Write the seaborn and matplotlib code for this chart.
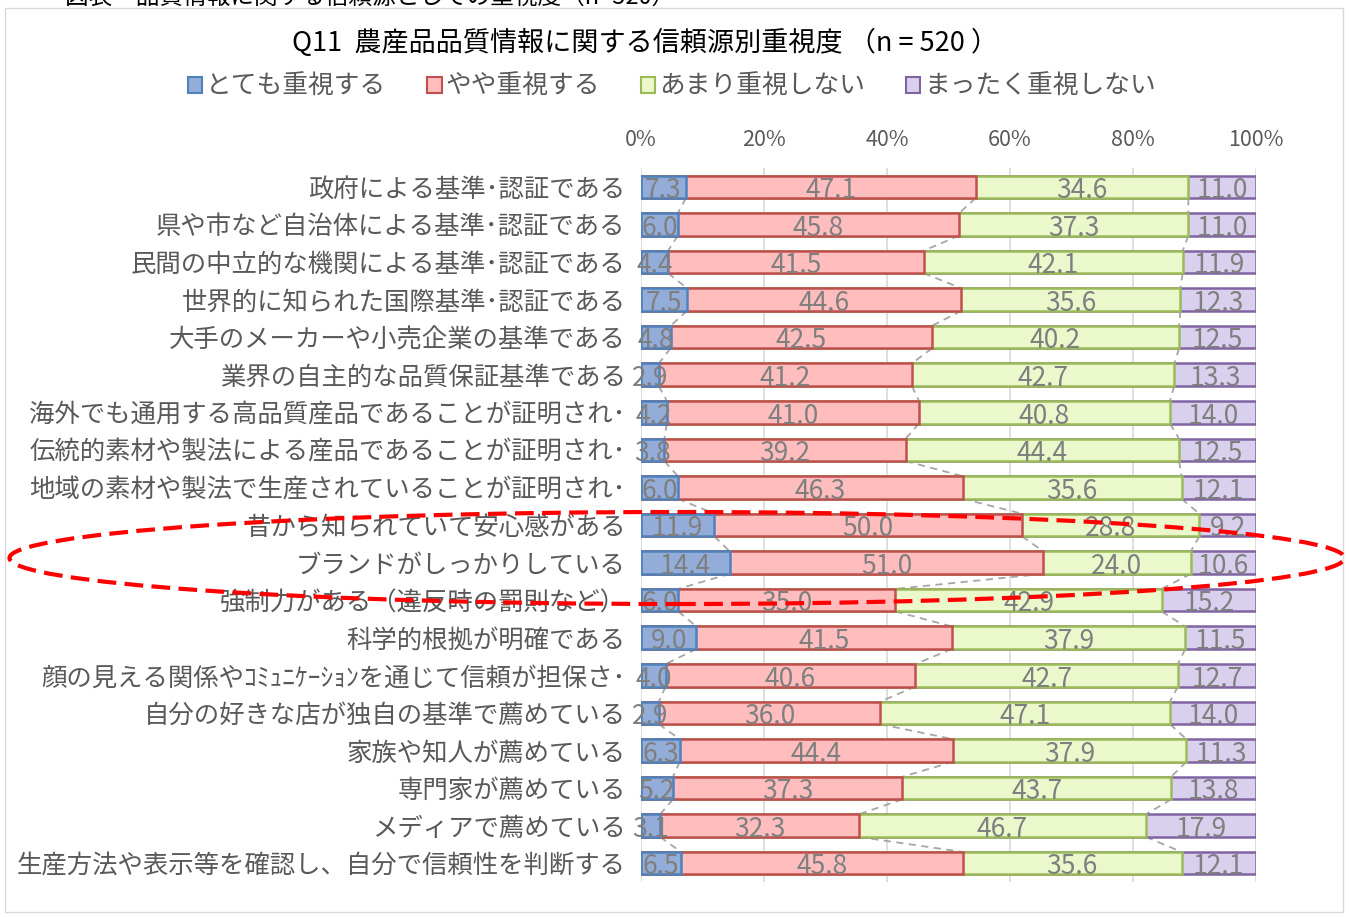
import numpy as np
import pandas as pd
import matplotlib
matplotlib.use("Agg")
import matplotlib.pyplot as plt
from matplotlib.patches import Patch, Ellipse, Rectangle
import seaborn as sns

categories = [
    "政府による基準･認証である",
    "県や市など自治体による基準･認証である",
    "民間の中立的な機関による基準･認証である",
    "世界的に知られた国際基準･認証である",
    "大手のメーカーや小売企業の基準である",
    "業界の自主的な品質保証基準である",
    "海外でも通用する高品質産品であることが証明され･",
    "伝統的素材や製法による産品であることが証明され･",
    "地域の素材や製法で生産されていることが証明され･",
    "昔から知られていて安心感がある",
    "ブランドがしっかりしている",
    "強制力がある（違反時の罰則など）",
    "科学的根拠が明確である",
    "顔の見える関係やｺﾐｭﾆｹｰｼｮﾝを通じて信頼が担保さ･",
    "自分の好きな店が独自の基準で薦めている",
    "家族や知人が薦めている",
    "専門家が薦めている",
    "メディアで薦めている",
    "生産方法や表示等を確認し、自分で信頼性を判断する",
]
series_names = ["とても重視する", "やや重視する", "あまり重視しない", "まったく重視しない"]
very = [7.3, 6.0, 4.4, 7.5, 4.8, 2.9, 4.2, 3.8, 6.0, 11.9, 14.4, 6.0, 9.0, 4.0, 2.9, 6.3, 5.2, 3.1, 6.5]
some = [47.1, 45.8, 41.5, 44.6, 42.5, 41.2, 41.0, 39.2, 46.3, 50.0, 51.0, 35.0, 41.5, 40.6, 36.0, 44.4, 37.3, 32.3, 45.8]
little = [34.6, 37.3, 42.1, 35.6, 40.2, 42.7, 40.8, 44.4, 35.6, 28.8, 24.0, 42.9, 37.9, 42.7, 47.1, 37.9, 43.7, 46.7, 35.6]
none_ = [11.0, 11.0, 11.9, 12.3, 12.5, 13.3, 14.0, 12.5, 12.1, 9.2, 10.6, 15.2, 11.5, 12.7, 14.0, 11.3, 13.8, 17.9, 12.1]
xticks = [0, 20, 40, 60, 80, 100]
title = "Q11  農産品品質情報に関する信頼源別重視度 （n = 520 ）"
top_caption = "図表　品質情報に関する信頼源としての重視度（n=520）"

fills = ["#93ADD8", "#FFBDBD", "#EAF8CB", "#D9D0EE"]
edges = ["#4F81BD", "#C0504D", "#9BBB59", "#8064A2"]
grey = "#595959"
label_grey = "#7F7F7F"

sns.set_theme(style="white")
plt.rcParams['font.family'] = ['Noto Sans CJK JP', 'DejaVu Sans']

raw = np.array([very, some, little, none_], dtype=float)
pct = raw / raw.sum(axis=0) * 100
cum = np.cumsum(pct, axis=0)

df = pd.DataFrame({"cat": categories})
for k in range(4):
    df[f"c{k}"] = cum[k]

W, H = 1349, 917
fig = plt.figure(figsize=(W / 100, H / 100), dpi=100)
ax = fig.add_axes([641 / W, 1 - 882 / H, 615 / W, (882 - 168) / H])

for xv in xticks:
    ax.axvline(xv, color="#D9D9D9", lw=1.2, zorder=0)

bh = 0.6
for k in [3, 2, 1, 0]:
    sns.barplot(data=df, x=f"c{k}", y="cat", order=categories, orient="h",
                color=fills[k], edgecolor=edges[k], linewidth=1.8,
                width=bh, ax=ax, zorder=3, saturation=1)

# series lines
n = len(categories)
for k in range(3):
    for i in range(n - 1):
        ax.plot([cum[k][i], cum[k][i + 1]], [i + bh / 2, i + 1 - bh / 2],
                color="#A6A6A6", lw=1.3, ls=(0, (4, 3)), zorder=2)

# data labels
lab_font = dict(family=['Liberation Sans Narrow', 'Noto Sans CJK JP'], fontsize=19)
for k in range(4):
    left = cum[k] - pct[k]
    for i in range(n):
        ax.text(left[i] + pct[k][i] / 2, i + 0.02, f"{raw[k][i]:.1f}", ha="center",
                va="center_baseline", color=label_grey, zorder=5, **lab_font)

ax.set_xlim(0, 100)
ax.set_ylim(n - 0.5, -0.5)
ax.xaxis.tick_top()
ax.set_xticks(xticks)
ax.set_xticklabels([f"{v}%" for v in xticks], color=grey, fontsize=15.5)
ax.tick_params(axis="x", length=0, pad=12)
ax.tick_params(axis="y", length=0, pad=11)
ax.set_yticks(range(n))
ax.set_yticklabels(categories, fontsize=18.3, color=grey)
ax.set_xlabel("")
ax.set_ylabel("")
for s in ax.spines.values():
    s.set_visible(False)
ax.grid(False)

fig.text(645 / W, 1 - 43 / H, title, ha="center", va="center", fontsize=19.5, color="black")
fig.text(65 / W, 1 - 4 / H, top_caption, ha="left", va="baseline", fontsize=17, color="black")

handles = [Patch(facecolor=fills[k], edgecolor=edges[k], linewidth=1.5, label=series_names[k]) for k in range(4)]
leg = fig.legend(handles=handles, loc="center", bbox_to_anchor=(672 / W, 1 - 87 / H), ncol=4,
                 frameon=False, fontsize=18.5, handlelength=0.55, handleheight=0.55,
                 handletextpad=0.15, columnspacing=1.6)
for t in leg.get_texts():
    t.set_color(grey)

fig.add_artist(Rectangle((5 / W, 1 - 912 / H), 1338 / W, 904 / H, transform=fig.transFigure,
                         fill=False, edgecolor="#D9D9D9", lw=1))
fig.add_artist(Ellipse((677 / W, 1 - 558 / H), 1335 / W, 92 / H, transform=fig.transFigure,
                       fill=False, edgecolor="#FF0000", lw=3, ls=(0, (4.5, 2)), zorder=10))

fig.savefig("out.png", dpi=100)
